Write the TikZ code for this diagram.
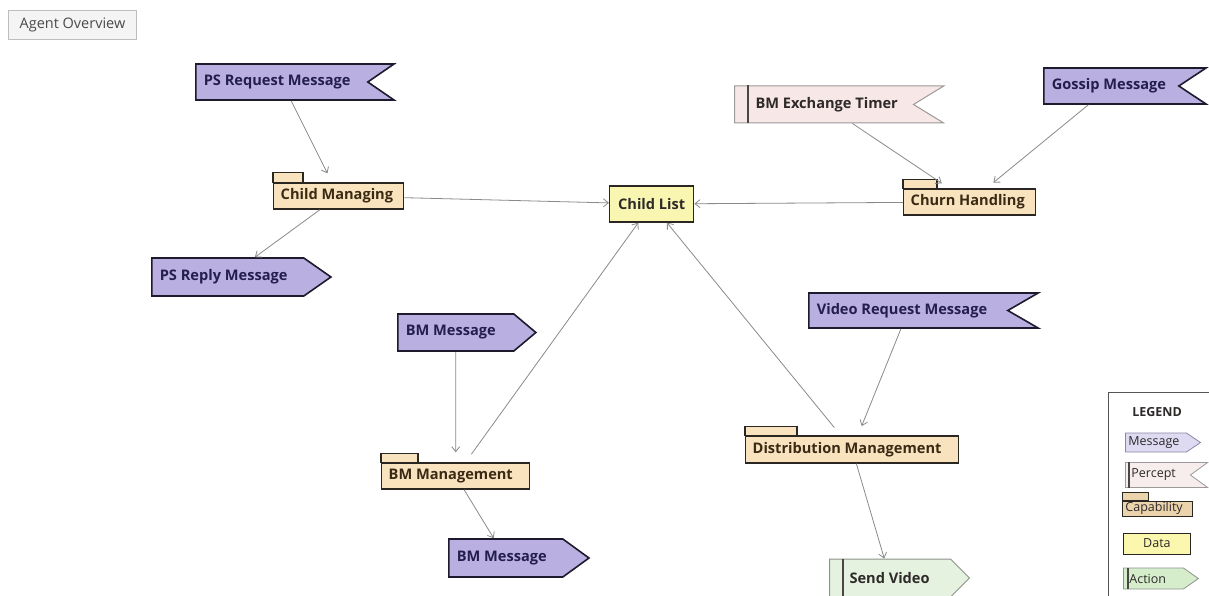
\documentclass[tikz,border=0pt]{standalone}
\usepackage{fontspec}
\setmainfont{Open Sans}
\usetikzlibrary{shapes.symbols,arrows.meta,calc}

\definecolor{msgfill}{HTML}{B9AFE0}
\definecolor{msgline}{HTML}{1E1A2E}
\definecolor{msgtext}{HTML}{231E4E}
\definecolor{percfill}{HTML}{F7E7E6}
\definecolor{percline}{HTML}{9C9A9A}
\definecolor{actfill}{HTML}{E6F2E0}
\definecolor{actline}{HTML}{8E948C}
\definecolor{capfill}{HTML}{F8E3BE}
\definecolor{capline}{HTML}{2A2622}
\definecolor{captext}{HTML}{3A2A14}
\definecolor{datafill}{HTML}{F9F6B2}
\definecolor{darktext}{HTML}{2E2A2A}
\definecolor{barcol}{HTML}{4A4646}
\definecolor{edgecol}{HTML}{8A8A8A}
\definecolor{titlefill}{HTML}{F4F4F4}
\definecolor{titleline}{HTML}{BDBDBD}
\definecolor{titletext}{HTML}{4A4A4A}
\definecolor{lmsgfill}{HTML}{DEDAF2}
\definecolor{lmsgline}{HTML}{8A86A6}
\definecolor{lpercfill}{HTML}{F6EDEC}
\definecolor{lcapfill}{HTML}{EBD3AC}
\definecolor{ldatafill}{HTML}{FBF7AE}
\definecolor{lactfill}{HTML}{D6EDCC}
\definecolor{legline}{HTML}{555555}

\newcommand{\elemfont}{\bfseries\fontsize{14.6}{16}\selectfont}
\newcommand{\legfont}{\fontsize{12.5}{14}\selectfont}

\begin{document}
\begin{tikzpicture}[x=1pt,y=-1pt,
  msgbase/.style={signal, signal pointer angle=70, fill=msgfill, draw=msgline,
    line width=1.6pt, text=msgtext, font=\elemfont, inner xsep=8pt,
    inner ysep=0pt, anchor=west},
  inmsg/.style={msgbase, signal to=nothing, signal from=east},
  outmsg/.style={msgbase, signal to=east, signal from=nothing},
  percept/.style={inmsg, fill=percfill, draw=percline, line width=1pt, text=darktext},
  action/.style={outmsg, fill=actfill, draw=actline, line width=1pt, text=darktext},
  capability/.style={rectangle, fill=capfill, draw=capline, line width=1.4pt,
    text=captext, font=\elemfont, inner xsep=7pt, inner ysep=0pt,
    minimum height=26pt, anchor=west},
  captab/.style={fill=capfill, draw=capline, line width=1.1pt},
  datum/.style={rectangle, fill=datafill, draw=capline, line width=1.4pt,
    text=darktext, font=\elemfont, inner sep=0pt, anchor=west},
  bar/.style={draw=barcol, line width=1.6pt},
  conn/.style={draw=edgecol, line width=0.8pt,
    -{Straight Barb[length=5pt,width=8pt]}},
  legitem/.style={font=\legfont, line width=0.8pt, inner xsep=3pt, text=darktext},
]
\useasboundingbox (0,0) rectangle (1209,596);
\clip (0,0) rectangle (1209,596);
\fill[white] (0,0) rectangle (1209,596);

% title tab
\node[anchor=north west, fill=titlefill, draw=titleline, line width=1pt,
  minimum width=128pt, minimum height=29pt, inner sep=0pt, text=titletext,
  font=\fontsize{14.5}{16}\selectfont] (title) at (8,10) {Agent Overview};

% messages and percepts
\node[inmsg, signal pointer angle=69, minimum height=36pt] (psreq) at (195,82)
  {\makebox[156pt][l]{PS Request Message}};
\node[outmsg, signal pointer angle=70, minimum height=38pt] (psrep) at (151,277)
  {\makebox[136pt][l]{PS Reply Message}};
\node[percept, signal pointer angle=63, minimum height=37pt] (bmtimer) at (734,104.5)
  {\makebox[163pt][l]{\hspace*{13pt}BM Exchange Timer}};
\node[inmsg, signal pointer angle=67, minimum height=36pt] (gossip) at (1043,86)
  {\makebox[119pt][l]{Gossip Message}};
\node[inmsg, signal pointer angle=60, minimum height=35pt] (vidreq) at (808,310.5)
  {\makebox[183pt][l]{Video Request Message}};
\node[outmsg, signal pointer angle=80, minimum height=37pt] (bmmsgin) at (397,332.5)
  {\makebox[100pt][l]{BM Message}};
\node[outmsg, signal pointer angle=72, minimum height=38pt] (bmmsgout) at (448,558)
  {\makebox[98pt][l]{BM Message}};
\node[action, signal pointer angle=90, minimum height=38pt] (sendvid) at (829,578)
  {\makebox[105pt][l]{\hspace*{12pt}Send Video}};
\draw[bar] ($(bmtimer.west |- bmtimer.north)+(14,0)$) -- ($(bmtimer.west |- bmtimer.south)+(14,0)$);
\draw[bar] ($(sendvid.west |- sendvid.north)+(14,0)$) -- ($(sendvid.west |- sendvid.south)+(14,0)$);

% capabilities
\node[capability] (childman) at (273,196) {\makebox[116pt][l]{Child Managing}};
\node[capability] (churn) at (903,202) {\makebox[118pt][l]{Churn Handling}};
\node[capability] (bmman) at (381,476) {\makebox[134pt][l]{BM Management}};
\node[capability, minimum height=27pt] (distman) at (745,449.5)
  {\makebox[199pt][l]{Distribution Management}};
\draw[captab] (childman.north west) rectangle ++(30,-10);
\draw[captab] (churn.north west) rectangle ++(34,-9);
\draw[captab] (bmman.north west) rectangle ++(37,-9);
\draw[captab] (distman.north west) rectangle ++(52,-9);

% data
\node[datum, minimum width=84pt, minimum height=36pt] (childlist) at (609,204) {Child List};

% connectors
\draw[conn, shorten >=10pt] (psreq) -- (childman);
\draw[conn] (childman) -- (psrep);
\draw[conn] (childman) -- (childlist);
\draw[conn] (churn) -- (childlist);
\draw[conn, shorten >=9pt] (bmtimer) -- (churn);
\draw[conn, shorten >=9pt] (gossip) -- (churn);
\draw[conn, shorten >=10pt] (bmmsgin) -- (bmman);
\draw[conn, shorten <=10pt] (bmman) -- (childlist);
\draw[conn] (bmman) -- (bmmsgout);
\draw[conn, shorten >=10pt] (vidreq) -- (distman);
\draw[conn, shorten <=10pt] (distman) -- (childlist);
\draw[conn] (distman) -- (sendvid);

% legend
\node[anchor=north west, draw=legline, line width=1pt, fill=white,
  minimum width=130pt, minimum height=230pt, inner sep=0pt] (legend) at (1108,392) {};
\node[font=\bfseries\fontsize{12.5}{14}\selectfont, text=darktext] (legtitle) at (1157,412) {LEGEND};
\node[outmsg, legitem, fill=lmsgfill, draw=lmsgline, signal pointer angle=68,
  minimum height=19pt] (legmsg) at (1125,442.5) {\makebox[55pt][l]{Message}};
\node[percept, legitem, fill=lpercfill, signal pointer angle=72,
  minimum height=25pt] (legperc) at (1125,475) {\makebox[59pt][l]{\hspace*{3pt}Percept}};
\draw[bar, line width=1.2pt] ($(legperc.west |- legperc.north)+(4,0)$) -- ($(legperc.west |- legperc.south)+(4,0)$);
\node[capability, legitem, fill=lcapfill, minimum height=15pt] (legcap) at (1122,508.5)
  {\makebox[64pt][l]{Capability}};
\draw[captab, fill=lcapfill, line width=0.8pt] (legcap.north west) rectangle ++(26,-8);
\node[datum, legitem, fill=ldatafill, minimum width=67pt, minimum height=21pt] (legdata)
  at (1123,543.5) {Data};
\node[action, legitem, fill=lactfill, signal pointer angle=70,
  minimum height=21pt] (legact) at (1123,578.5) {\makebox[54pt][l]{\hspace*{3pt}Action}};
\draw[bar, line width=1.2pt] ($(legact.west |- legact.north)+(5,0)$) -- ($(legact.west |- legact.south)+(5,0)$);
\end{tikzpicture}
\end{document}
